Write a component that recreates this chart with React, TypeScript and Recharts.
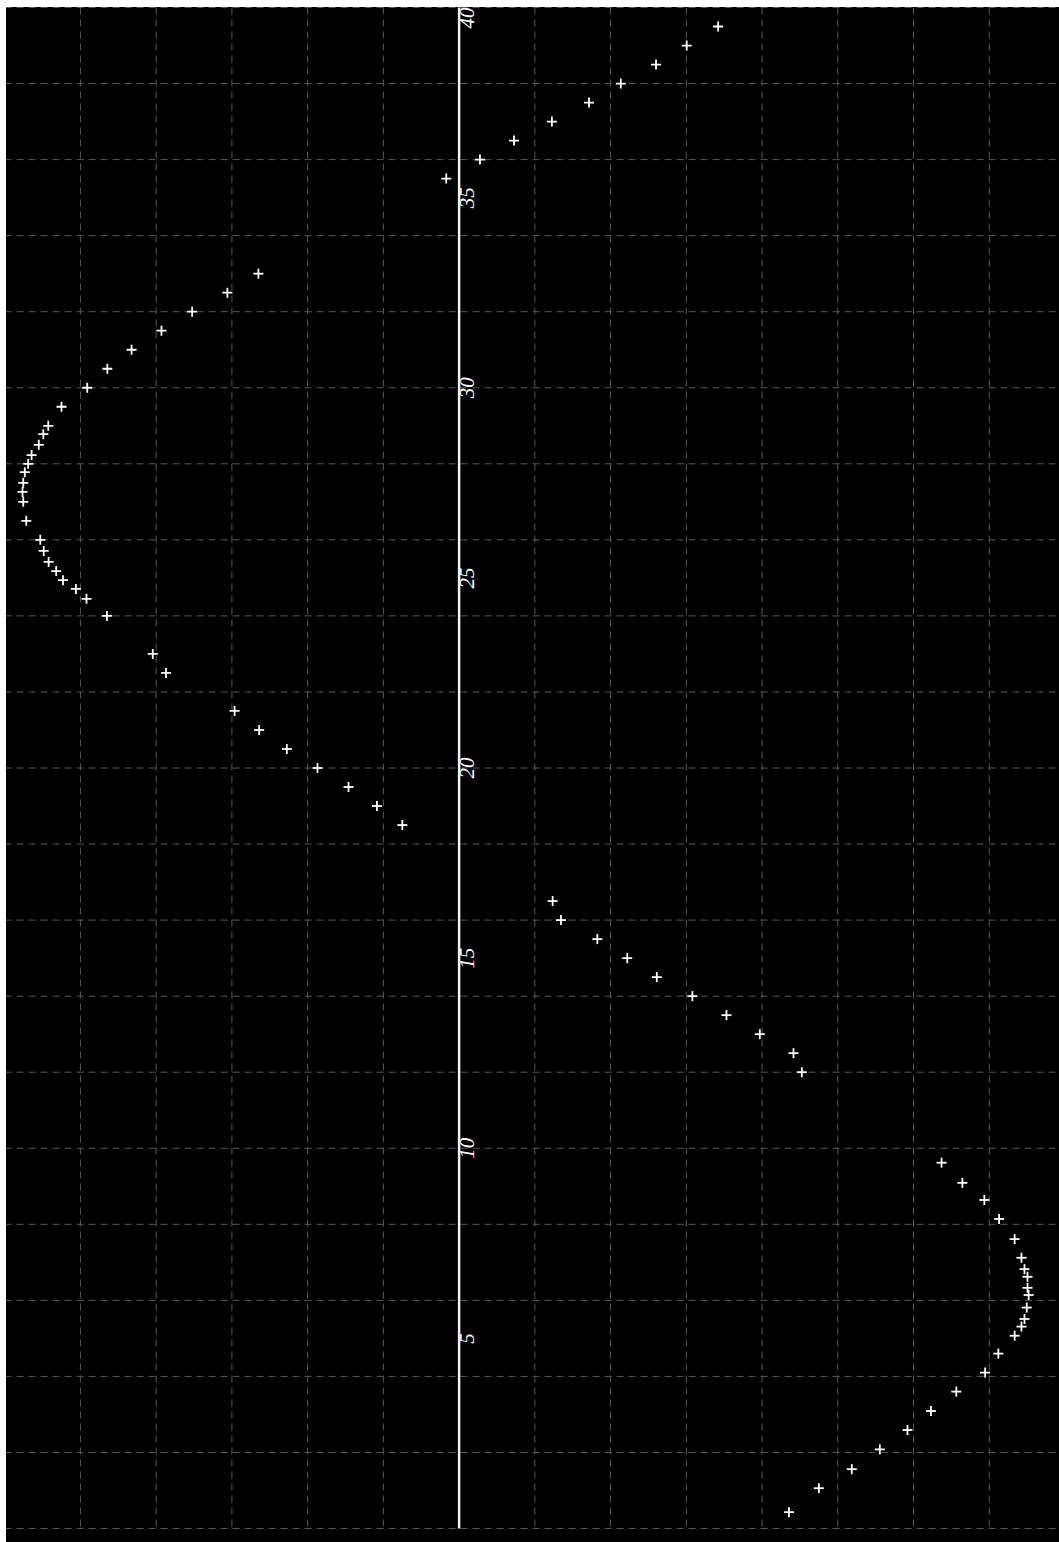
import React from "react";
import {
  ScatterChart,
  Scatter,
  XAxis,
  YAxis,
  CartesianGrid,
  ReferenceLine,
} from "recharts";

// Day of observation (vertical) and offset from the central line (horizontal), one arc at a time
const arcOneDays = [39.5, 39.0, 38.5, 38.0, 37.5, 37.0, 36.5, 36.0, 35.5];
const arcOneOffsets = [6.84, 6.01, 5.2, 4.27, 3.43, 2.45, 1.45, 0.55, -0.34];

const arcTwoDays = [
  33.0, 32.5, 32.0, 31.5, 31.0, 30.5, 30.0, 29.5, 29.0, 28.78, 28.5, 28.23,
  28.0, 27.78, 27.5, 27.26, 27.0, 26.5, 26.0, 25.71, 25.42, 25.18, 24.94,
  24.71, 24.45, 24.0, 23.0, 22.5, 21.5, 21.0, 20.5, 20.0, 19.5, 19.0, 18.5,
];
const arcTwoOffsets = [
  -5.3, -6.12, -7.05, -7.86, -8.65, -9.29, -9.82, -10.5, -10.85, -10.98,
  -11.1, -11.29, -11.38, -11.47, -11.51, -11.53, -11.51, -11.43, -11.06,
  -10.97, -10.84, -10.64, -10.46, -10.12, -9.84, -9.3, -8.09, -7.74, -5.93,
  -5.28, -4.55, -3.74, -2.92, -2.17, -1.5,
];

const arcThreeDays = [16.5, 16.0, 15.5, 15.0, 14.5, 14.0, 13.5, 13.0, 12.5, 12.0];
const arcThreeOffsets = [2.47, 2.69, 3.65, 4.44, 5.22, 6.16, 7.06, 7.94, 8.83, 9.05];

const arcFourDays = [
  9.62, 9.09, 8.64, 8.14, 7.61, 7.12, 6.82, 6.62, 6.33, 6.14, 5.81, 5.51,
  5.31, 5.07, 4.6, 4.1, 3.6, 3.09, 2.59, 2.08, 1.56, 1.06, 0.43,
];
const arcFourOffsets = [
  12.74, 13.29, 13.87, 14.26, 14.67, 14.85, 14.93, 15.01, 15.01, 15.04,
  14.99, 14.93, 14.85, 14.67, 14.24, 13.89, 13.13, 12.46, 11.84, 11.11,
  10.37, 9.5, 8.71,
];

const dayLabels = [5, 10, 15, 20, 25, 30, 35, 40];
const dayGridTicks = [0, 2, 4, 6, 8, 10, 12, 14, 16, 18, 20, 22, 24, 26, 28, 30, 32, 34, 36, 38, 40];
const offsetGridTicks = [-12, -10, -8, -6, -4, -2, 0, 2, 4, 6, 8, 10, 12, 14, 16];

const toPoints = (days: number[], offsets: number[]) =>
  days.map((d, i) => ({ x: offsets[i], y: d }));

const observations = [
  ...toPoints(arcOneDays, arcOneOffsets),
  ...toPoints(arcTwoDays, arcTwoOffsets),
  ...toPoints(arcThreeDays, arcThreeOffsets),
  ...toPoints(arcFourDays, arcFourOffsets),
];

const labelPoints = dayLabels.map((d) => ({ x: 0, y: d, label: String(d) }));

function Cross(props: any) {
  const { cx, cy } = props;
  if (cx == null || cy == null) return null;
  return (
    <g stroke="#ffffff" strokeWidth={1.8}>
      <line x1={cx - 5} y1={cy} x2={cx + 5} y2={cy} />
      <line x1={cx} y1={cy - 5} x2={cx} y2={cy + 5} />
    </g>
  );
}

function DayLabel(props: any) {
  const { cx, cy, payload } = props;
  if (cx == null || cy == null) return null;
  const x = cx + 15;
  // the top label sits at the frame edge, so it hangs below its line
  const anchor = payload.y === 40 ? "end" : "middle";
  return (
    <text
      x={x}
      y={cy}
      transform={`rotate(-90 ${x} ${cy})`}
      textAnchor={anchor}
      fill="#ffffff"
      fontSize={21}
      fontStyle="italic"
      fontFamily="'Liberation Serif', 'DejaVu Serif', serif"
    >
      {payload.label}
    </text>
  );
}

export default function App() {
  return (
    <div
      style={{
        position: "absolute",
        left: 0,
        top: 0,
        width: 1059,
        height: 1542,
        overflow: "hidden",
        background: "#000000",
      }}
    >
      <ScatterChart
        width={1065}
        height={1542}
        margin={{ top: 7.5, right: 0, bottom: 13.5, left: 4.7 }}
      >
        <CartesianGrid
          fill="#000000"
          stroke="#585858"
          strokeDasharray="7 5"
          strokeWidth={1}
        />
        <XAxis
          type="number"
          dataKey="x"
          domain={[-12, 16]}
          ticks={offsetGridTicks}
          allowDataOverflow
          hide
        />
        <YAxis
          type="number"
          dataKey="y"
          domain={[0, 40]}
          ticks={dayGridTicks}
          allowDataOverflow
          hide
        />
        <ReferenceLine x={0} stroke="#f2f2f2" strokeWidth={2.5} />
        <Scatter data={observations} shape={Cross} isAnimationActive={false} />
        <Scatter data={labelPoints} shape={DayLabel} isAnimationActive={false} />
      </ScatterChart>
      <div
        style={{ position: "absolute", left: 0, top: 0, width: 1059, height: 7, background: "#ffffff" }}
      />
      <div
        style={{ position: "absolute", left: 0, top: 0, width: 6, height: 1542, background: "#ffffff" }}
      />
    </div>
  );
}
